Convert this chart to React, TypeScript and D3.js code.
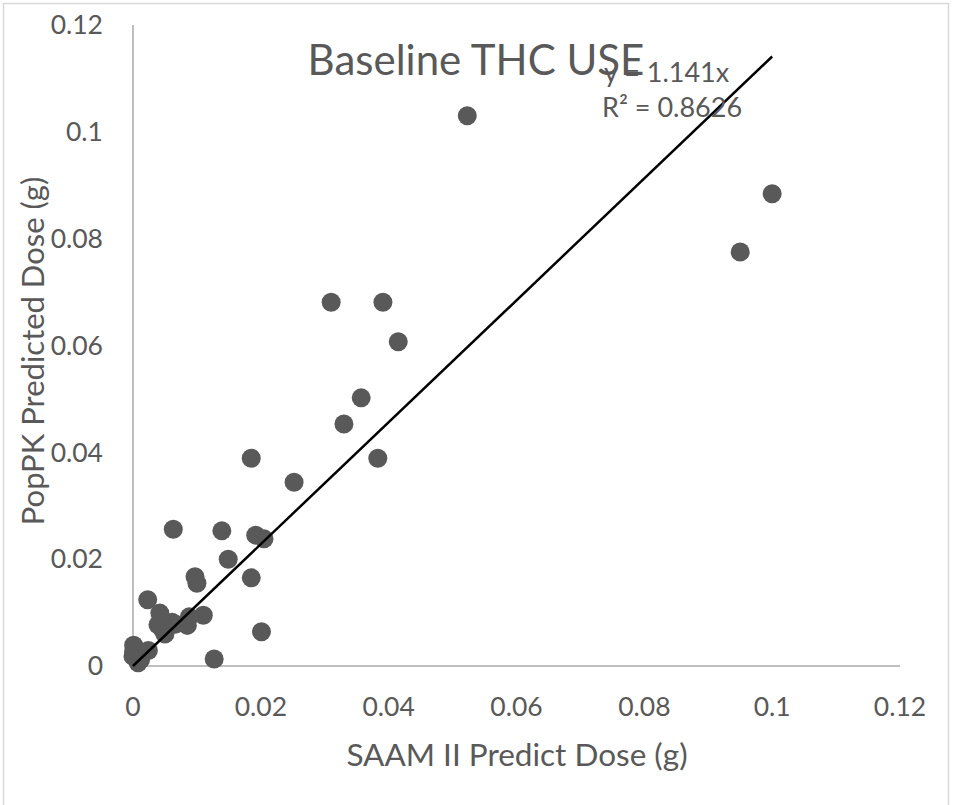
import React from "react";
import * as d3 from "d3";

const xValues = [0.0523,0.1000,0.0950,0.0310,0.0391,0.0415,0.0357,0.0330,0.0383,0.0185,0.0252,0.0063,0.0139,0.0192,0.0205,0.0149,0.0097,0.0100,0.0185,0.0023,0.0042,0.0110,0.0061,0.0047,0.0088,0.0085,0.0201,0.0127,0.0001,0.0001,0.0024,0.0008,0.0000,0.0012,0.0050,0.0066,0.0039];
const yValues = [0.1030,0.0884,0.0775,0.0681,0.0681,0.0607,0.0502,0.0453,0.0389,0.0389,0.0344,0.0256,0.0253,0.0245,0.0238,0.0200,0.0167,0.0155,0.0165,0.0124,0.0099,0.0095,0.0082,0.0067,0.0092,0.0076,0.0064,0.0013,0.0039,0.0027,0.0029,0.0006,0.0018,0.0012,0.0060,0.0078,0.0077];
const xTicks = [0, 0.02, 0.04, 0.06, 0.08, 0.1, 0.12];
const yTicks = [0, 0.02, 0.04, 0.06, 0.08, 0.1, 0.12];
const slope = 1.141;
const rSquared = 0.8626;
const titleText = "Baseline THC USE";
const xTitle = "SAAM II Predict Dose (g)";
const yTitle = "PopPK Predicted Dose (g)";

const FONT = "Lato, 'Open Sans', sans-serif";
const TEXT = "#595959";

export default function App() {
  const x = d3.scaleLinear().domain([0, 0.12]).range([133, 900]);
  const y = d3.scaleLinear().domain([0, 0.12]).range([666, 25]);
  const fmt = (v: number) => (v === 0 ? "0" : String(+v.toFixed(2)));
  const xMax = d3.max(xValues) as number;
  const line = d3.line<number>().x((d) => x(d)).y((d) => y(slope * d));
  return (
    <svg width={956} height={805} style={{ position: "absolute", left: 0, top: 0, background: "#fff" }} fontFamily={FONT}>
      <rect x={3.5} y={3.5} width={945} height={810} fill="#fff" stroke="#d9d9d9" strokeWidth={1.5} />
      <line x1={x(0)} x2={x(0)} y1={y(0.12)} y2={y(0)} stroke="#bfbfbf" strokeWidth={2} />
      <line x1={x(0)} x2={x(0.12)} y1={y(0)} y2={y(0)} stroke="#bfbfbf" strokeWidth={2} />
      {yTicks.map((t) => (
        <text key={"y" + t} x={103} y={y(t)} dy="0.35em" textAnchor="end" fontSize={26.5} fill={TEXT}>{fmt(t)}</text>
      ))}
      {xTicks.map((t) => (
        <text key={"x" + t} x={x(t)} y={707} dy="0.35em" textAnchor="middle" fontSize={26.5} fill={TEXT}>{fmt(t)}</text>
      ))}
      {xValues.map((v, i) => (
        <circle key={i} cx={x(v)} cy={y(yValues[i])} r={9.5} fill="#595959" />
      ))}
      <path d={line([0, xMax]) || ""} stroke="#000" strokeWidth={2.5} fill="none" />
      <text x={476} y={60} dy="0.35em" textAnchor="middle" fontSize={42} fill={TEXT}>{titleText}</text>
      <text x={604} y={73} dy="0.35em" fontSize={27} fill={TEXT}>{`y = ${slope}x`}</text>
      <text x={602} y={108} dy="0.35em" fontSize={27} fill={TEXT}>{`R² = ${rSquared}`}</text>
      <text x={517} y={755} dy="0.35em" textAnchor="middle" fontSize={31.5} fill={TEXT}>{xTitle}</text>
      <text transform={`translate(33,351) rotate(-90)`} dy="0.35em" textAnchor="middle" fontSize={31} fill={TEXT}>{yTitle}</text>
    </svg>
  );
}
